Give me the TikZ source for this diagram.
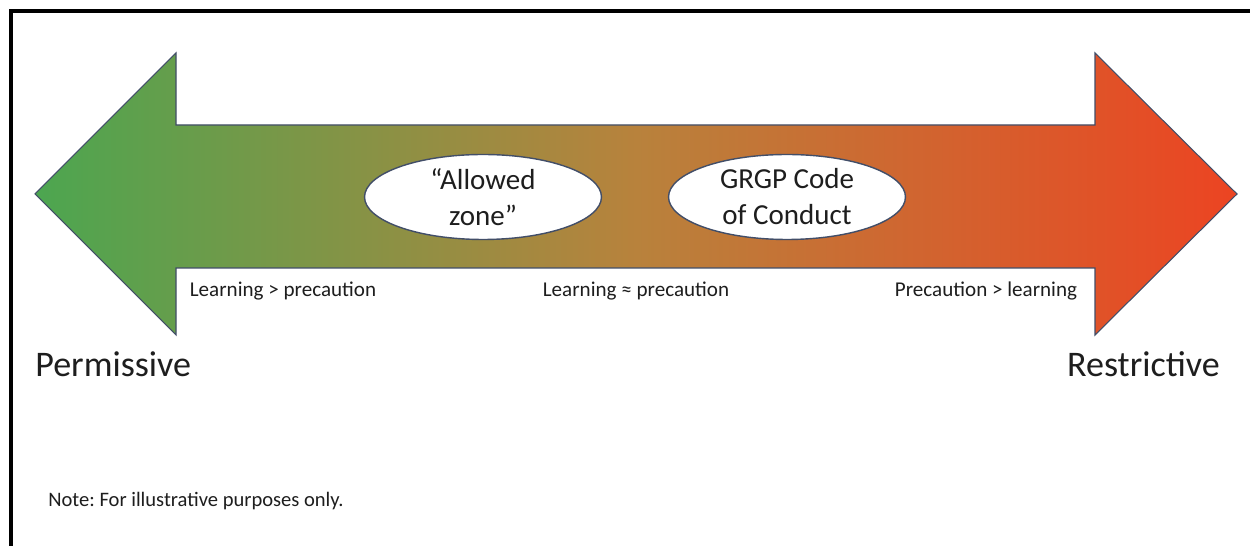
\documentclass[tikz,border=0pt]{standalone}
\usepackage{fontspec}
\setmainfont{Carlito}
\usepackage{xcolor}
\usetikzlibrary{shapes.geometric, positioning}
\frenchspacing

\definecolor{permgreen}{RGB}{76,166,80}
\definecolor{midorange}{RGB}{184,130,60}
\definecolor{restred}{RGB}{236,68,34}
\definecolor{rimblue}{RGB}{66,78,104}
\definecolor{inkgray}{RGB}{30,30,30}

\tikzset{
  bubble/.style={ellipse, draw=rimblue, line width=0.8pt, fill=white,
    minimum width=4.74cm, minimum height=1.7cm, inner xsep=0pt, inner ysep=-4pt,
    align=center, font=\fontsize{16.5}{20.5}\selectfont, text=inkgray},
  steplbl/.style={anchor=base, inner sep=0pt, font=\fontsize{12}{14}\selectfont, text=inkgray},
  endlbl/.style={inner sep=0pt, font=\fontsize{20.5}{24}\selectfont, text=inkgray}
}

\begin{document}
\begin{tikzpicture}[x=0.02cm, y=-0.02cm]
\useasboundingbox (0,0) rectangle (1250,546);
\fill[white] (0,0) rectangle (1250,546);
\draw[line width=1.8pt] (1250,11) -- (11,11) -- (11,546); % frame
%
\shadedraw[left color=permgreen, right color=restred, middle color=midorange,
  draw=rimblue, line width=0.6pt]
  (35,194) -- (176,53) -- (176,125) -- (1095,125) -- (1095,53) -- (1237,194)
  -- (1095,335) -- (1095,268) -- (176,268) -- (176,335) -- cycle;
%
\node[bubble] (allowed) at (483,197) {“Allowed\\zone”};
\node[bubble] (grgp) at (787,197) {GRGP Code\\of Conduct};
%
\node[steplbl] (lp) at (283,297) {Learning > precaution};
\node[steplbl] (le) at (636,297) {Learning ≈ precaution};
\node[steplbl] (pl) at (986,297) {Precaution > learning};
%
\node[endlbl, anchor=base west] (perm) at (35,377) {Permissive};
\node[endlbl, anchor=base east] (restr) at (1220,377) {Restrictive};
\node[anchor=base west, inner sep=0pt, font=\fontsize{11.7}{14}\selectfont, text=inkgray] (note) at (48,507) {Note: For illustrative purposes only.};
\end{tikzpicture}
\end{document}
